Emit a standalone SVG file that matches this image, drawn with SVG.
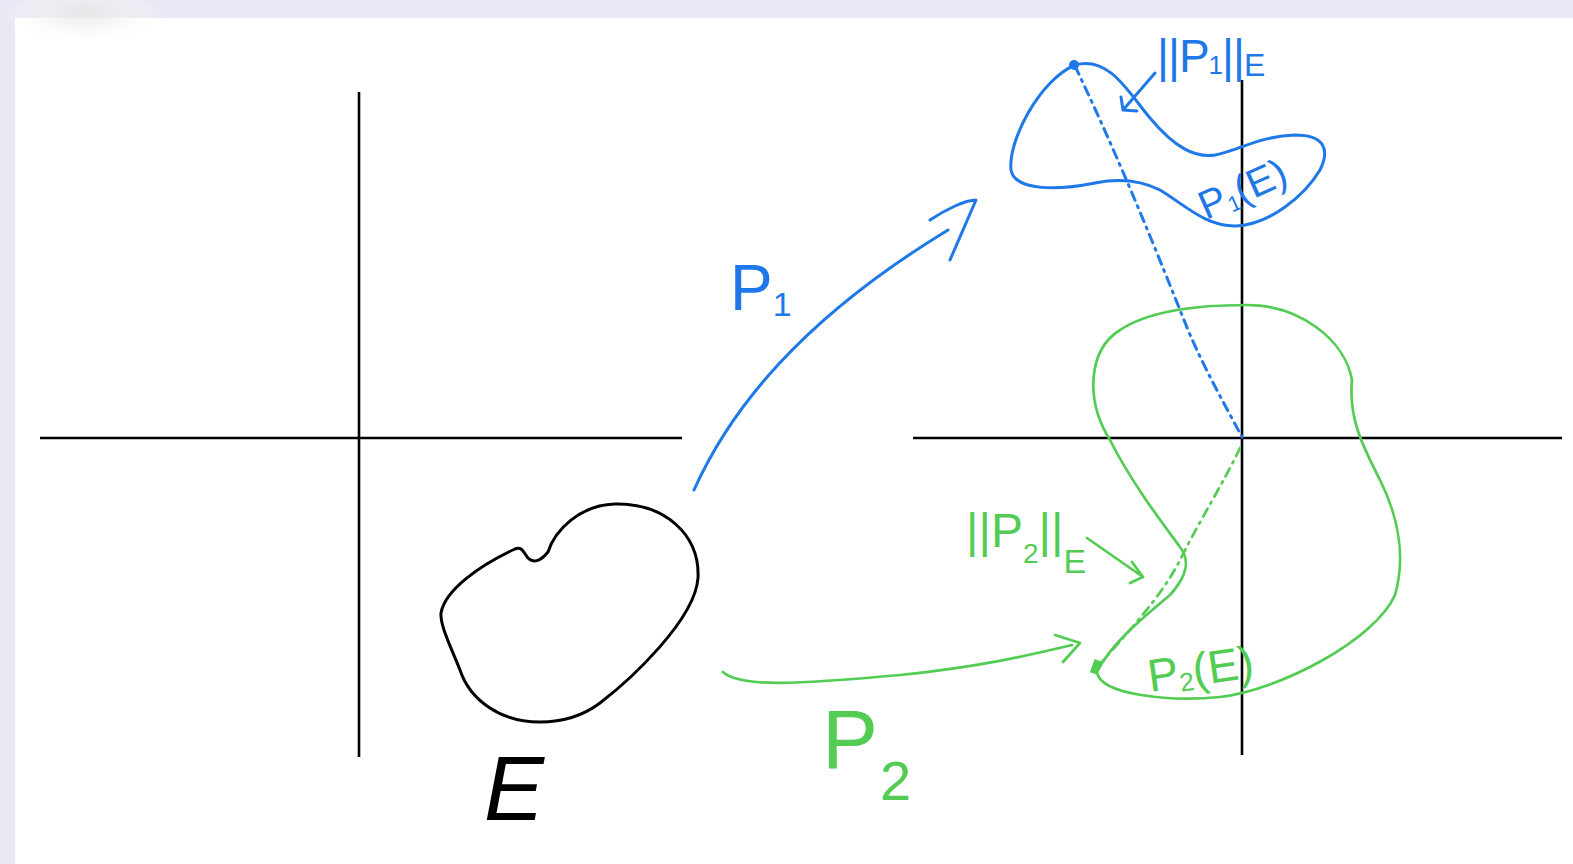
<svg xmlns="http://www.w3.org/2000/svg" width="1573" height="864" viewBox="0 0 1573 864">
<defs>
<radialGradient id="shade" cx="0.5" cy="0.3" r="0.5">
<stop offset="0" stop-color="#e4e4e4" stop-opacity="0.9"/>
<stop offset="1" stop-color="#ffffff" stop-opacity="0"/>
</radialGradient>
</defs>
<style>
.ax{stroke:#000;stroke-width:2.6;fill:none}
.blk{stroke:#000;stroke-width:3;fill:none;stroke-linecap:round;stroke-linejoin:round}
.blu{stroke:#1f78e8;stroke-width:3;fill:none;stroke-linecap:round;stroke-linejoin:round}
.grn{stroke:#52cc52;stroke-width:2.7;fill:none;stroke-linecap:round;stroke-linejoin:round}
.dash{stroke-dasharray:9 6 2 6}
.tb{fill:#1f78e8;font-family:"Liberation Sans",sans-serif;font-weight:300}
.tg{fill:#52cc52;font-family:"Liberation Sans",sans-serif;font-weight:300}
.tk{fill:#000;font-family:"Liberation Sans",sans-serif;font-style:italic}
</style>
<rect x="0" y="0" width="1573" height="864" fill="#e9e9f5"/>
<rect x="15" y="18" width="1558" height="846" fill="#ffffff"/>
<ellipse cx="85" cy="26" rx="85" ry="34" fill="url(#shade)"/>

<g id="axes-left">
<line class="ax" x1="40" y1="438" x2="682" y2="438"/>
<line class="ax" x1="359" y1="92" x2="359" y2="757"/>
</g>
<g id="axes-right">
<line class="ax" x1="913" y1="438" x2="1562" y2="438"/>
<line class="ax" x1="1242" y1="80" x2="1242" y2="755"/>
</g>

<g id="node-E">
<path class="blk" d="M 441,613 C 445,590 480,565 515,549 C 522,546 524,553 528,558 C 533,563 540,562 548,552 C 555,530 580,505 615,504 C 665,503 700,535 698,578 C 695,620 630,680 600,703 C 580,718 560,722 540,722 C 500,722 470,700 460,670 C 450,645 440,625 441,613 Z"/>
<text class="tk" x="484" y="820" font-size="90">E</text>
</g>

<g id="node-P1E">
<path class="blu" d="M 1075,65 C 1110,55 1130,95 1150,118 C 1175,148 1195,158 1215,155 C 1240,150 1260,136 1295,135 C 1325,135 1330,150 1320,170 C 1305,195 1270,225 1235,226 C 1205,226 1185,205 1160,190 C 1140,180 1120,178 1095,183 C 1060,190 1015,192 1011,170 C 1008,140 1040,80 1075,65 Z"/>
<circle cx="1074" cy="65" r="5" fill="#1f78e8"/>
<text class="tb" transform="translate(1206,220) rotate(-24)" font-size="40">P<tspan font-size="22" dy="4">1</tspan><tspan dy="-4">(E)</tspan></text>
<text class="tb" x="1157" y="72" font-size="46" letter-spacing="-1">||P<tspan font-size="26" dy="2">1</tspan><tspan dy="-2">||</tspan><tspan font-size="32" dy="4">E</tspan></text>
<path class="blu" d="M 1155,73 L 1123,110 M 1121,97 L 1123,110 L 1137,111"/>
</g>

<g id="node-P2E">
<path class="grn" d="M 1247,305 C 1300,305 1345,340 1352,380 C 1348,420 1365,450 1380,480 C 1400,520 1405,560 1395,595 C 1375,640 1280,690 1220,697 C 1170,702 1100,695 1097,672 C 1110,645 1140,620 1170,595 C 1188,575 1190,560 1180,547 C 1160,520 1130,480 1110,440 C 1085,400 1088,350 1120,330 C 1150,310 1200,305 1247,305 Z"/>
<rect x="1092" y="660" width="7" height="14" fill="#52cc52" transform="rotate(20 1096 667)"/>
<text class="tg" transform="translate(1150,692) rotate(-8)" font-size="46">P<tspan font-size="26" dy="4">2</tspan><tspan dy="-4">(E)</tspan></text>
<text class="tg" x="966" y="547" font-size="48">||P<tspan font-size="28" dy="16">2</tspan><tspan dy="-16">||</tspan><tspan font-size="34" dy="26">E</tspan></text>
<path class="grn" d="M 1087,538 L 1143,577 M 1132,562 L 1143,577 L 1130,583"/>
</g>

<g id="connectors">
<path class="blu" d="M 694,490 C 730,410 800,320 948,230"/>
<path class="blu" d="M 930,220 C 945,210 965,200 976,200 L 950,260"/>
<path class="blu dash" d="M 1075,66 C 1120,160 1160,260 1188,330 C 1205,370 1225,405 1242,437"/>
<path class="grn" d="M 723,672 C 740,688 800,684 900,675 C 980,667 1030,655 1072,645"/>
<path class="grn" d="M 1055,635 L 1080,643 L 1063,662"/>
<path class="grn dash" d="M 1240,448 C 1225,480 1200,520 1180,560 C 1160,600 1120,640 1097,668"/>
</g>

<g id="labels">
<text class="tb" x="730" y="310" font-size="64">P<tspan font-size="34" dy="6">1</tspan></text>
<text class="tg" x="822" y="768" font-size="84">P</text>
<text class="tg" x="880" y="800" font-size="56">2</text>
</g>
</svg>
